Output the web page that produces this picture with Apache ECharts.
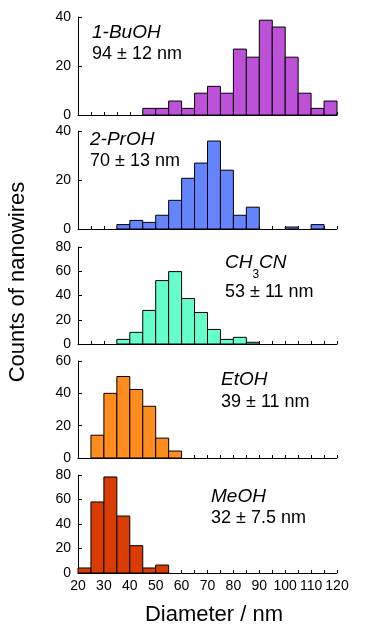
<!DOCTYPE html>
<html>
<head>
<meta charset="utf-8">
<script src="https://cdn.jsdelivr.net/npm/echarts@6/dist/echarts.min.js"></script>
<style>
html,body{margin:0;padding:0;background:#fff;}
#chart{width:381px;height:635px;}
</style>
</head>
<body>
<div id="chart"></div>
<script>
// Bin left edges (nm), bin width 5 nm
const binStarts = [20,25,30,35,40,45,50,55,60,65,70,75,80,85,90,95,100,105,110,115];
const binWidth = 5;
// Counts per bin for each solvent
const countsBuOH  = [0,0,0,0,0,2.7,2.7,5.7,2.7,8.9,11.7,8.9,26.9,23.6,38.7,35.9,23.6,8.9,2.7,5.7];
const countsPrOH  = [0,0,0,1.8,3.5,2.7,5.6,11.7,20.7,26.9,35.9,24,5.6,8.9,0,0,0.8,0,1.8,0];
const countsCH3CN = [0,0,0,3.8,9.6,27.7,52.3,59.7,37.5,26,12,3.8,5.5,1.4,0,0,0,0,0,0];
const countsEtOH  = [0,14.1,40,50.4,42.4,32,12.3,4.3,0,0,0,0,0,0,0,0,0,0,0,0];
const countsMeOH  = [4.1,58,78.4,46.5,22.3,4.1,6.5,0,0,0,0,0,0,0,0,0,0,0,0,0];
// Y axis maxima and tick intervals
const yMax = [40,40,80,60,80];
const yInterval = [20,20,20,20,20];
// x ticks
const xMin = 20, xMax = 120, xTickStep = 5;
// Labels
const solventLabels = ['1-BuOH','2-PrOH','CH3CN','EtOH','MeOH'];
const sizeLabels = ['94 ± 12 nm','70 ± 13 nm','53 ± 11 nm','39 ± 11 nm','32 ± 7.5 nm'];
const xTitle = 'Diameter / nm';
const yTitle = 'Counts of nanowires';

const allCounts = [countsBuOH,countsPrOH,countsCH3CN,countsEtOH,countsMeOH];
const colors = ['#BD52D9','#6585FF','#66FFCC','#FF8C1E','#D83C02'];
const gridTops = [17,131,247,361,475];
const gridHeights = [98,98,97,97,98];
const FONT = 'Arial, "Liberation Sans", Helvetica, sans-serif';

const chart = echarts.init(document.getElementById('chart'), null, {renderer:'canvas'});

const grids = [], xAxes = [], yAxes = [], series = [];
allCounts.forEach((counts, i) => {
  grids.push({left:78, right:44, top:gridTops[i], height:gridHeights[i], containLabel:false});
  xAxes.push({
    type:'value', gridIndex:i, min:xMin, max:xMax, interval:xTickStep,
    axisLine:{show:true, lineStyle:{color:'#000', width:1}},
    axisTick:{show:true, inside:true, length:3, lineStyle:{color:'#000'}},
    splitLine:{show:false},
    axisLabel:{show:i===4, color:'#000', fontFamily:FONT, fontSize:14, margin:6,
      formatter: v => (v % 10 === 0 ? String(v) : '')}
  });
  yAxes.push({
    type:'value', gridIndex:i, min:0, max:yMax[i], interval:yInterval[i],
    axisLine:{show:true, lineStyle:{color:'#000', width:1}},
    axisTick:{show:true, inside:true, length:4, lineStyle:{color:'#000'}},
    splitLine:{show:false},
    axisLabel:{color:'#000', fontFamily:FONT, fontSize:14, margin:7}
  });
  const data = [];
  counts.forEach((c, k) => { if (c > 0) data.push([binStarts[k], binStarts[k] + binWidth, c]); });
  const col = colors[i];
  series.push({
    type:'custom', xAxisIndex:i, yAxisIndex:i, data:data,
    renderItem:(params, api) => {
      const p0 = api.coord([api.value(0), 0]);
      const p1 = api.coord([api.value(1), api.value(2)]);
      return {type:'rect',
        shape:{x:p0[0], y:p1[1], width:p1[0]-p0[0], height:p0[1]-p1[1]},
        style:{fill:col, stroke:'#000', lineWidth:1}};
    }
  });
});

const labelPos = [
  {x:92, y1:33, y2:54},
  {x:90, y1:140, y2:161},
  {x:225, y1:264, y2:292},
  {x:221, y1:380, y2:402},
  {x:211, y1:497, y2:518}
];
const graphics = [];
labelPos.forEach((p, i) => {
  if (i === 2) {
    graphics.push({type:'text', left:p.x, top:p.y1 - 11, style:{
      text:'{a|CH}{s|3}{a|CN}',
      rich:{
        a:{fontFamily:FONT, fontStyle:'italic', fontSize:19, fill:'#000', lineHeight:22, verticalAlign:'top'},
        s:{fontFamily:FONT, fontSize:12, fill:'#000', lineHeight:14, padding:[16,0,0,0], verticalAlign:'top'}
      }
    }});
  } else {
    graphics.push({type:'text', x:p.x, y:p.y1, style:{
      text:solventLabels[i], font:'italic 19px ' + FONT, fill:'#000', verticalAlign:'middle', align:'left'}});
  }
  graphics.push({type:'text', x:p.x, y:p.y2, style:{
    text:sizeLabels[i], font:'18px ' + FONT, fill:'#000', verticalAlign:'middle', align:'left'}});
});
graphics.push({type:'text', x:214, y:615, style:{text:xTitle, font:'22px ' + FONT, fill:'#000', align:'center', verticalAlign:'middle'}});
graphics.push({type:'text', x:18, y:282, rotation:Math.PI/2, style:{text:yTitle, font:'22px ' + FONT, fill:'#000', align:'center', verticalAlign:'middle'}});

chart.setOption({
  backgroundColor:'#fff',
  animation:false,
  grid:grids, xAxis:xAxes, yAxis:yAxes, series:series,
  graphic:graphics
});
</script>
</body>
</html>
